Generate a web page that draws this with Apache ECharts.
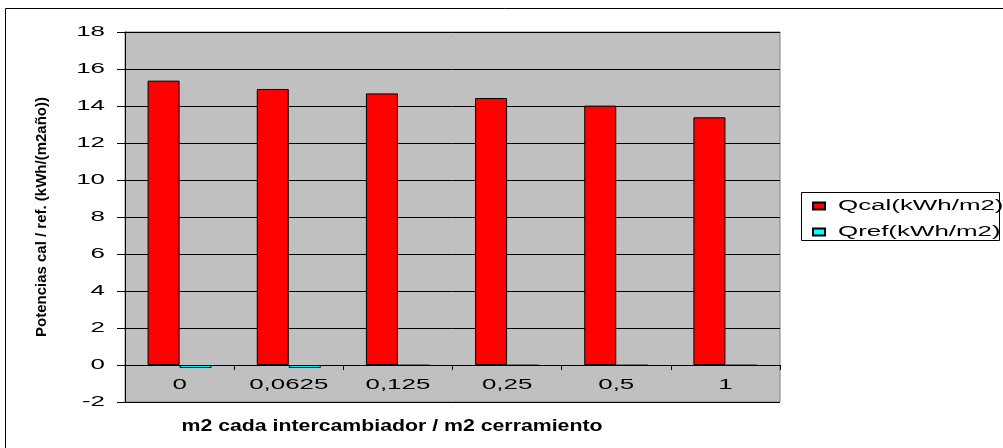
<!DOCTYPE html>
<html>
<head>
<meta charset="utf-8">
<script src="https://cdn.jsdelivr.net/npm/echarts@6/dist/echarts.min.js"></script>
<style>
  html, body { margin: 0; padding: 0; background: #fff; }
  #main { width: 1003px; height: 448px; }
</style>
</head>
<body>
<div id="main"></div>
<script>
var categories = ['0', '0,0625', '0,125', '0,25', '0,5', '1'];
var qcal = [15.37, 14.92, 14.68, 14.43, 14.02, 13.39];
var qref = [-0.16, -0.16, -0.03, -0.03, -0.03, -0.03];
var yTicks = { min: -2, max: 18, step: 2 };

// the original chart draws its text wide; stretch glyphs horizontally per font
// key: 'b' for bold + size in px
var stretch = { '14': 1.85, 'b16': 1.33 };
var origFill = CanvasRenderingContext2D.prototype.fillText;
CanvasRenderingContext2D.prototype.fillText = function (t, x, y, w) {
    var m = /(\d+)px/.exec(this.font);
    var key = (/bold|700/.test(this.font) ? 'b' : '') + (m ? m[1] : '');
    var k = stretch[key];
    if (!k) return origFill.apply(this, arguments);
    this.save();
    this.translate(x, y);
    this.scale(k, 1);
    origFill.call(this, t, 0, 0);
    this.restore();
};

var myChart = echarts.init(document.getElementById('main'));
var font = 'Liberation Sans, Arial, sans-serif';

var option = {
    animation: false,
    backgroundColor: '#fff',
    textStyle: { fontFamily: font },
    grid: {
        left: 125, top: 32, width: 655, height: 370,
        show: true,
        backgroundColor: '#C0C0C0',
        borderColor: '#808080',
        borderWidth: 1
    },
    legend: {
        orient: 'vertical',
        left: 802, top: 195,
        padding: [4, 0, 0, 10],
        itemGap: 12,
        itemWidth: 12, itemHeight: 7,
        textStyle: { fontSize: 14, color: '#000', fontFamily: font, padding: [0, 0, 0, 8] },
        data: [
            { name: 'Qcal(kWh/m2)', icon: 'rect' },
            { name: 'Qref(kWh/m2)', icon: 'rect' }
        ]
    },
    xAxis: {
        type: 'category',
        data: categories,
        axisLine: { onZero: true, lineStyle: { color: '#000', width: 1 } },
        axisTick: { show: true, length: 5, inside: false, lineStyle: { color: '#000' } },
        axisLabel: { fontSize: 14, color: '#000', margin: -24, interval: 0, fontFamily: font }
    },
    yAxis: {
        type: 'value',
        min: yTicks.min, max: yTicks.max, interval: yTicks.step,
        name: 'Potencias cal / ref. (kWh/(m2año))',
        nameLocation: 'middle',
        nameGap: 76,
        nameTextStyle: { fontSize: 15, fontWeight: 'bold', color: '#000', fontFamily: font },
        axisLine: { show: true, lineStyle: { color: '#000' } },
        axisTick: { show: true, length: 8, lineStyle: { color: '#000' } },
        axisLabel: { fontSize: 14, color: '#000', margin: 20, fontFamily: font },
        splitLine: { show: true, lineStyle: { color: '#000', width: 1 } }
    },
    graphic: [
        {
            type: 'rect',
            shape: { x: 5.5, y: 8.5, width: 1100, height: 600 },
            style: { fill: 'none', stroke: '#000', lineWidth: 1 },
            silent: true, z: -10
        },
        {
            type: 'rect',
            shape: { x: 801.5, y: 192.5, width: 198, height: 48 },
            style: { fill: '#fff', stroke: '#000', lineWidth: 1 },
            silent: true, z: -5
        },
        {
            type: 'text',
            x: 392, y: 427,
            style: {
                text: 'm2 cada intercambiador / m2 cerramiento',
                font: 'bold 16px ' + font,
                fill: '#000',
                textAlign: 'center',
                textVerticalAlign: 'middle'
            }
        }
    ],
    series: [
        {
            name: 'Qcal(kWh/m2)',
            type: 'bar',
            data: qcal,
            barWidth: 32,
            barGap: '0%',
            itemStyle: { color: '#FF0000', borderColor: '#000', borderWidth: 1 }
        },
        {
            name: 'Qref(kWh/m2)',
            type: 'bar',
            data: qref,
            barWidth: 32,
            barGap: '0%',
            itemStyle: { color: '#00FFFF', borderColor: '#000', borderWidth: 1 }
        }
    ]
};
myChart.setOption(option);
</script>
</body>
</html>
